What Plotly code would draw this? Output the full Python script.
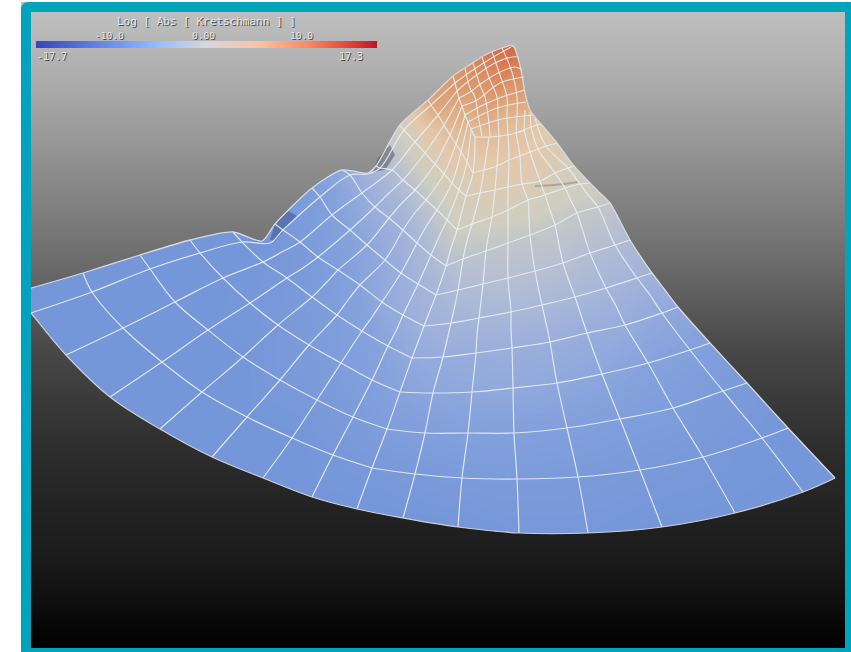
import plotly.graph_objects as go

# Gradient background (pixel row, grey level)
BG_Y = [12, 60, 100, 150, 200, 250, 300, 350, 400, 450, 500, 550, 600, 630, 648]
BG_GREY = [190, 178, 165, 148, 130, 112, 92, 72, 58, 45, 36, 28, 15, 5, 0]

# Mesh nodes, one row per arc, S0..S16
A0 = [(14,293),(31,313),(66,355),(110,397),(160,429),(212,457),(263,478),(312,497),(357,509),(403,518),(458,527),(519,533),(588,533),(662,527),(735,513),(803,492),(835,478)]
A1 = [(83,273),(92,292),(123,328),(162,362),(202,392),(247,417),(292,438),(333,455),(372,468),(415,474),(462,478),(517,479),(578,477),(640,470),(703,457),(762,438),(788,428)]
A2 = [(140,255),(150,269),(175,302),(208,330),(243,357),(280,380),(317,400),(353,417),(387,429),(425,433),(468,433),(514,433),(567,428),(620,419),(673,408),(723,391),(747,383)]
A3 = [(190,240),(200,253),(223,278),(250,303),(278,325),(309,345),(341,363),(372,380),(400,392),(433,393),(472,392),(513,388),(557,383),(602,374),(648,363),(690,350),(710,343)]
A4 = [(233,232),(242,242),(263,262),(287,278),(312,297),(337,315),(362,331),(388,346),(412,358),(443,357),(476,353),(512,348),(550,342),(587,333),(625,325),(662,313),(678,307)]
H45 = [(262,241),(270,243),(282,252),(303,268),(325,284),(348,300),(372,317),(396,331),(418,342),(447,340),(477,335),(511,330),(546,323),(581,315),(616,306),(650,295),(665,290)]
A5 = [(275,224),(283,230),(300,242),(318,257),(338,270),(360,285),(382,302),(403,315),(424,326),(451,323),(479,318),(511,312),(542,305),(575,297),(606,288),(637,278),(652,273)]
A6 = [(312,188),(320,197),(332,215),(350,230),(367,245),(385,260),(401,273),(418,284),(436,295),(458,290),(483,284),(508,278),(535,271),(563,263),(590,253),(615,245),(630,240)]
A7 = [(342,170),(350,175),(362,193),(375,207),(389,218),(403,230),(417,243),(431,255),(446,266),(463,259),(486,251),(508,243),(530,235),(555,225),(577,213),(598,207),(610,203)]
H78 = [(368,173),(368,174),(377,182),(389,193),(402,203),(414,214),(427,225),(439,237),(451,248),(467,241),(489,233),(508,226),(529,217),(550,210),(571,201),(589,196),(600,193)]
A8 = [(376,166),(380,168),(392,170),(403,180),(415,190),(426,200),(437,210),(447,220),(457,230),(472,224),(492,217),(508,210),(528,200),(545,195),(565,188),(580,184),(590,183)]
A9 = [(400,125),(404,130),(415,142),(425,153),(435,164),(444,174),(452,183),(459,190),(466,196),(480,193),(495,190),(508,187),(522,184),(540,181),(555,173),(568,168),(574,166)]
A10 = [(428,100),(431,105),(438,115),(444,125),(450,135),(456,144),(461,152),(467,162),(473,173),(484,170),(497,166),(509,160),(520,156),(530,152),(538,149),(546,146),(557,143)]
A11 = [(453,76),(455,83),(457,91),(459,98),(462,106),(465,115),(468,122),(471,129),(475,137),(489,137),(499,136),(508,135),(516,133),(524,130),(531,127),(537,125),(541,124)]
T1 = [(468,66),(469,72),(470,78),(472,85),(474,92),(476,98),(478,105),(480,112),(483,119),(490,119),(497,117),(503,116),(509,115),(515,114),(520,113),(525,111),(530,110)]
T2 = [(485,55),(485,59),(485,64),(486,68),(487,73),(488,78),(490,84),(491,90),(493,95),(497,95),(501,95),(505,94),(509,94),(513,94),(517,93),(521,93),(525,93)]
T3 = [(499,49),(500,52),(500,55),(501,57),(502,60),(503,62),(503,65),(504,67),(505,70),(507,70),(509,70),(511,70),(513,70),(515,70),(517,70),(519,70),(521,70)]
T4 = [(511,45),(511,45.5),(511,46),(511,46),(511,46.5),(511,47),(511,47),(512,47),(512,47.5),(512,47.5),(512,47.5),(512,47),(513,47),(513,47),(513,47),(514,47),(514,47)]
ROWS = [A0,A1,A2,A3,A4,H45,A5,A6,A7,H78,A8,A9,A10,A11,T1,T2,T3,T4]

# Field values at the nodes
Z_A0 = [-10.5]*11 + [-10.2,-10.2,-10.5,-10.5,-10.5,-10.5]
Z_A1 = [-10.5]*7 + [-10.2,-10,-9.8,-9.6,-9.5,-9.6,-9.8,-10,-10.3,-10.5]
Z_A2 = [-10.5]*5 + [-10,-9.8,-9.5,-9,-8.7,-8.5,-8.5,-8.6,-8.8,-9,-9.5,-9.8]
Z_A3 = [-10.5,-10.5,-10.5,-10.2,-10,-9.5,-9,-8.5,-8,-7.5,-7.2,-7,-7.2,-7.5,-8,-8.3,-8.5]
Z_A4 = [-10.5,-10.5,-10.3,-10,-9.5,-9,-8.3,-7.7,-7,-6.5,-6.2,-6,-6,-6.2,-6.5,-7,-7.2]
Z_H45 = [-10.5,-10.5,-10.2,-9.8,-9.2,-8.5,-7.8,-7,-6.3,-5.7,-5.3,-5,-5,-5.2,-5.5,-6,-6.2]
Z_A5 = [-10,-10,-9.8,-9.3,-8.8,-8,-7,-6.3,-5.5,-5,-4.5,-4,-4,-4.2,-4.5,-5,-5.2]
Z_A6 = [-9,-9,-8.5,-8,-7.5,-6.8,-6,-5,-4.5,-3.5,-3,-2.7,-2.7,-2.7,-3,-3.2,-3.5]
Z_A7 = [-7,-6.5,-6.5,-6,-5.5,-5,-4.3,-3.5,-3,-2.2,-1.8,-1.5,-1.3,-1.2,-1.2,-1.2,-1.5]
Z_H78 = [-5,-5,-5,-4.5,-4.2,-3.5,-3,-2.3,-1.5,-1,-.5,-.2,0,0,0,-.2,-.3]
Z_A8 = [-3.5,-3.5,-3.2,-2.8,-2.2,-1.6,-1.2,-.7,-.3,.2,.6,.8,.8,.6,.3,0,-.2]
Z_A9 = [.5,.5,1.2,1.6,1.8,1.8,1.6,1.4,1.3,1.6,2,2.3,2.3,2,1.5,1.2,1]
Z_A10 = [7,7,6.5,5.5,5,4.5,4,3.5,2.8,3,3.2,3.5,3.5,3.2,3,2.5,2]
Z_A11 = [8.5,8.5,8,7.5,7,6.5,6,5.5,5,5,4.8,4.5,4.5,4.5,4.2,4,4]
Z_T1 = [9.5,9,9,8.5,8,8,7.5,7,6.5,6.5,6.5,6,6,6,6,6,6]
Z_T2 = [10.5,10.5,10,10,9.5,9,9,8.5,8.5,8.5,8,8,8,8,8,8,8]
Z_T3 = [12,12,11.5,11,11,11,11,10.5,10.5,10.5,10.5,10,10,10,10,10,10]
Z_T4 = [12.5]*17
Z_ROWS = [Z_A0,Z_A1,Z_A2,Z_A3,Z_A4,Z_H45,Z_A5,Z_A6,Z_A7,Z_H78,Z_A8,Z_A9,Z_A10,Z_A11,Z_T1,Z_T2,Z_T3,Z_T4]

SURFACE_SCALE_Z = [-12,-10.5,-8.5,-6,-4,-2,0,3.5,5,9,11.5,13]
SURFACE_SCALE_RGB = ["rgb(108,140,210)","rgb(117,150,216)","rgb(130,160,220)","rgb(155,175,220)","rgb(170,185,215)","rgb(190,195,205)","rgb(207,206,192)","rgb(228,200,170)","rgb(226,190,155)","rgb(220,145,100)","rgb(215,115,75)","rgb(210,100,60)"]

# Extra mesh lines at the apex
P_S1 = [(455,83),(470,72),(495,56),(511,47)]
P_S2 = [(457,91),(465,84),(478,74),(495,63),(512,57),(519,57)]
P_S3 = [(459,98),(470,92),(482,83),(498,73),(515,67),(522,70)]
P_S4 = [(462,106),(477,100),(500,83),(524,77)]
P_S5 = [(465,115),(483,105),(502,97),(525,90)]
P_S6 = [(468,122),(497,108),(526,102)]
P_S7 = [(471,129),(498,120),(533,115)]
APEX_LINES = [P_S1,P_S2,P_S3,P_S4,P_S5,P_S6,P_S7,
    [(465,68),(470,88),(475,97),(478,115),(482,136)],
    [(473,63),(480,85),(485,97),(488,115),(490,136)],
    [(482,57),(490,80),(497,97),(498,115),(499,136)],
    [(492,52),(500,75),(507,97),(507,115),(508,135)],
    [(502,48),(512,72),(517,97),(517,115),(516,133)],
    [(524,130),(525,110)],[(531,127),(530,112)],[(537,125),(535,118)]]
RIGHT_EDGE_TOP = [(541,124),(530,110),(525,93),(521,70),(514,47),(511,45)]
SHADOW_A = [(270,240),(275,224),(287,210),(297,216),(283,232),(275,241)]
SHADOW_B = [(373,172),(378,158),(390,145),(395,155),(385,170)]
CREASE = [(535,186),(555,185),(578,182)]

# Colour bar
BAR_VALUES = [-17.7,-15.9,-14.1,-12.3,-10.5,-8.7,-6.9,-5.1,-3.3,-1.5,.3,2.1,3.9,5.7,7.5,9.3,11.1,12.9,14.7,17.3]
BAR_SCALE = [[0,"rgb(55,70,190)"],[.22,"rgb(105,145,240)"],[.36,"rgb(150,190,255)"],[.5,"rgb(215,215,220)"],[.65,"rgb(250,195,165)"],[.79,"rgb(250,140,100)"],[.9,"rgb(225,80,60)"],[1,"rgb(190,20,40)"]]
BAR_TICKS = ["-10.0","0.00","10.0"]
BAR_TICK_VALUES = [-10.2,-0.5,9.6]
BAR_TITLE = "Log [ Abs [ Kretschmann ] ]"
BAR_MIN_LABEL = "-17.7"
BAR_MAX_LABEL = "17.3"

HIDDEN = {id(H45), id(H78), id(T1), id(T2), id(T3), id(T4)}
TEAL = "rgb(0,163,188)"
LINE = "rgba(228,238,243,0.9)"

fig = go.Figure()
fig.add_trace(go.Heatmap(x=[31,845], y=BG_Y, z=[[g,g] for g in BG_GREY], zmin=0, zmax=190,
    colorscale=[[0,"rgb(0,0,0)"],[1,"rgb(190,190,190)"]], showscale=False, zsmooth="best", hoverinfo="skip"))

xs = [[p[0] for p in r] for r in ROWS]
ys = [[p[1] for p in r] for r in ROWS]
a_idx = list(range(17)); b_idx = list(range(len(ROWS)))
axis_off = dict(showgrid=False, showline=False, showticklabels="none", startline=False, endline=False,
                minorgridcount=0, smoothing=1, tickmode="array", tickvals=[])
fig.add_trace(go.Carpet(a=a_idx, b=b_idx, x=xs, y=ys, carpet="mesh", aaxis=axis_off, baxis=axis_off))
lo, hi = SURFACE_SCALE_Z[0], SURFACE_SCALE_Z[-1]
fig.add_trace(go.Contourcarpet(a=a_idx, b=b_idx, z=Z_ROWS, carpet="mesh", zmin=lo, zmax=hi, showscale=False,
    colorscale=[[(v-lo)/(hi-lo), c] for v, c in zip(SURFACE_SCALE_Z, SURFACE_SCALE_RGB)],
    autocontour=False, contours=dict(start=lo, end=hi, size=0.2, coloring="fill", showlines=False),
    line=dict(width=0)))

def poly(points, **kw):
    fig.add_trace(go.Scatter(x=[p[0] for p in points], y=[p[1] for p in points], hoverinfo="skip", showlegend=False, **kw))

def curve(points, color=LINE, width=1.2, smooth=1.0):
    poly(points, mode="lines", line=dict(color=color, width=width, shape="spline", smoothing=smooth))

poly(SHADOW_A + SHADOW_A[:1], mode="none", fill="toself", fillcolor="rgba(50,70,130,0.45)")
poly(SHADOW_B + SHADOW_B[:1], mode="none", fill="toself", fillcolor="rgba(85,85,95,0.55)")
curve(CREASE, color="rgba(110,110,100,0.4)", width=2)

# arcs: two smooth runs that meet at a kink
for r in ROWS[1:14]:
    if id(r) not in HIDDEN:
        curve(r[:9])
        curve(r[8:])
# spokes
for c in range(1, 16):
    curve([r[c] for r in ROWS[:14]])
for l in APEX_LINES:
    curve(l, width=1.1)
# outline
curve(A0, color="rgb(205,205,205)", width=1.2)
curve([r[0] for r in ROWS], color="rgb(215,218,222)", width=1.3, smooth=0.7)
curve([r[16] for r in ROWS[:14]] + RIGHT_EDGE_TOP, color="rgb(215,218,222)", width=1.3, smooth=0.7)

fig.add_trace(go.Heatmap(x=BAR_VALUES, y=[0,1], z=[BAR_VALUES,BAR_VALUES], xaxis="x2", yaxis="y2", colorscale=BAR_SCALE,
    zmin=-17.7, zmax=17.3, showscale=False, hoverinfo="skip", zsmooth="best"))

def label(x, y, text, xref="x", size=10):
    fig.add_annotation(x=x, y=y, text=text, xref=xref, yref="y", showarrow=False,
        font=dict(family="DejaVu Sans Mono", size=size, color="rgb(232,232,232)", shadow="1px 1px 0px rgb(70,70,70)"))

label(206, 21, BAR_TITLE, size=11)
for v, t in zip(BAR_TICK_VALUES, BAR_TICKS):
    label(v, 35.5, t, xref="x2", size=9.5)
label(52, 56.5, BAR_MIN_LABEL)
label(351, 56.5, BAR_MAX_LABEL)

frame = "M 31 12 H 845 V 648 H 31 Z M 21 652 V 10 Q 21 2 29 2 H 851 V 652 Z"
fig.update_layout(
    width=851, height=652, margin=dict(l=0, r=0, t=0, b=0), paper_bgcolor="white", plot_bgcolor="white", showlegend=False,
    xaxis=dict(range=[0,851], domain=[0,1], visible=False, fixedrange=True),
    yaxis=dict(range=[652,0], domain=[0,1], visible=False, fixedrange=True),
    xaxis2=dict(range=[-17.7,17.3], domain=[36/851,377/851], visible=False, anchor="y2"),
    yaxis2=dict(range=[0,1], domain=[1-48/652,1-41/652], visible=False, anchor="x2"),
    shapes=[dict(type="rect", x0=0, x1=21, y0=0, y1=652, xref="x", yref="y", fillcolor="white", line=dict(width=0), layer="above"),
            dict(type="rect", x0=0, x1=851, y0=0, y1=2, xref="x", yref="y", fillcolor="white", line=dict(width=0), layer="above"),
            dict(type="path", path=frame, xref="x", yref="y", fillcolor=TEAL, line=dict(width=0), layer="above", fillrule="evenodd")],
)
fig.write_html("out.html", post_script="document.body.style.margin='0';", config=dict(displayModeBar=False))
